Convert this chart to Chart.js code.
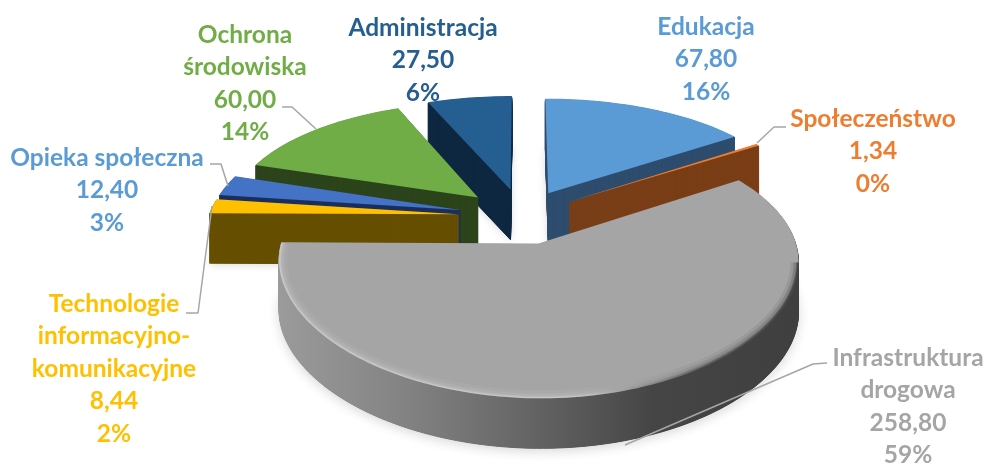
<!DOCTYPE html>
<html lang="pl">
<head>
<meta charset="utf-8">
<title>Wydatki</title>
<script src="https://cdn.jsdelivr.net/npm/chart.js@4"></script>
<style>
  html, body { margin: 0; padding: 0; background: #fff; }
  canvas { display: block; }
</style>
</head>
<body>
<canvas id="pieChart" width="988" height="463"></canvas>
<script>
const categories = ['Edukacja', 'Społeczeństwo', 'Infrastruktura drogowa', 'Technologie informacyjno-komunikacyjne', 'Opieka społeczna', 'Ochrona środowiska', 'Administracja'];
const values = [67.8, 1.34, 258.8, 8.44, 12.4, 60, 27.5];

const topColors = ['#5B9BD5', '#ED7D31', '#A5A5A5', '#FFC000', '#4472C4', '#70AD47', '#255E91'];
const sideColors = ['#2E4D6E', '#7A3E16', null, '#664F00', '#1B2F5E', '#2C441B', '#0E2740'];
const labelColors = ['#5B9BD5', '#ED7D31', '#A5A5A5', '#FFC000', '#5B9BD5', '#70AD47', '#255E91'];
const sliceOffsets = [184, 184, 184, 204, 204, 195, 192];

// wrapped the way the labels sit on the picture
const labelLines = [['Edukacja'], ['Społeczeństwo'], ['Infrastruktura', 'drogowa'], ['Technologie', 'informacyjno-', 'komunikacyjne'], ['Opieka społeczna'], ['Ochrona', 'środowiska'], ['Administracja']];
const labelX = [706, 873, 908, 114, 107, 245, 423];
const labelY = [27, 119, 358, 304, 158, 35, 28];
const leaderLines = [
  null,
  [[786, 127], [774, 127], [757, 143]],
  [[827, 363], [813, 364], [625, 445]],
  [[186, 313], [198, 313], [212, 206]],
  [[210, 164], [221, 164], [228, 186]],
  [[282, 107], [292, 107], [316, 129]],
  null
];

// back to front, grey slice goes over everything
const drawOrder = [6, 0, 5, 4, 3, 1, 2];

const focal = 1.25;       // pie radius -> px on screen
const squash = 0.472;     // tilt of the pie plane
const nearnessX = 0.13;   // perspective strength, across
const nearnessY = 0.17;   // perspective strength, front to back
const depth = 50;
const lineHeight = 32.5;

function project(arc, u, v) {
  const R = arc.outerRadius;
  return [
    arc.x + focal * R * u / (1 - nearnessX * v),
    arc.y + focal * squash * R * v / (1 - nearnessY * v)
  ];
}

function slicePoints(arc) {
  const R = arc.outerRadius;
  const half = (arc.startAngle + arc.endAngle) / 2;
  const e = (arc.options.offset / 4) / R;
  const ou = Math.cos(half) * e;
  const ov = Math.sin(half) * e;
  const rim = [];
  const steps = Math.max(2, Math.ceil((arc.endAngle - arc.startAngle) * 40));
  for (let i = 0; i <= steps; i++) {
    const a = arc.startAngle + (arc.endAngle - arc.startAngle) * i / steps;
    rim.push(project(arc, ou + Math.cos(a), ov + Math.sin(a)));
  }
  return { apex: project(arc, ou, ov), rim };
}

function tracePolygon(ctx, pts, dy) {
  ctx.beginPath();
  pts.forEach((p, i) => (i ? ctx.lineTo(p[0], p[1] + dy) : ctx.moveTo(p[0], p[1] + dy)));
  ctx.closePath();
}

function traceLine(ctx, pts) {
  ctx.beginPath();
  pts.forEach((p, i) => (i ? ctx.lineTo(p[0], p[1]) : ctx.moveTo(p[0], p[1])));
}

function greySide(ctx) {
  const g = ctx.createLinearGradient(278, 0, 800, 0);
  g.addColorStop(0, '#9B9B9B');
  g.addColorStop(0.25, '#828282');
  g.addColorStop(0.5, '#626262');
  g.addColorStop(0.72, '#454545');
  g.addColorStop(1, '#3F3F3F');
  return g;
}

function drawBevel(ctx, rim, outline) {
  ctx.save();
  tracePolygon(ctx, outline, 0);
  ctx.clip();
  const light = ctx.createLinearGradient(278, 0, 800, 0);
  light.addColorStop(0, 'rgba(255,255,255,0.4)');
  light.addColorStop(0.55, 'rgba(255,255,255,0.35)');
  light.addColorStop(0.8, 'rgba(255,255,255,0)');
  const dark = ctx.createLinearGradient(278, 0, 800, 0);
  dark.addColorStop(0.6, 'rgba(0,0,0,0)');
  dark.addColorStop(0.85, 'rgba(0,0,0,0.5)');
  dark.addColorStop(1, 'rgba(0,0,0,0.7)');
  // the far right rim stays flat, shading starts where the edge turns to the viewer
  const maxX = Math.max(...rim.map(p => p[0]));
  const front = rim.slice(rim.findIndex(p => p[0] === maxX));
  ctx.lineJoin = 'round';
  [[16, 0.12], [10, 0.2], [5, 0.35], [2.5, 0.5]].forEach(([w, a]) => {
    ctx.lineWidth = w;
    ctx.globalAlpha = a;
    traceLine(ctx, front);
    ctx.strokeStyle = light;
    ctx.stroke();
    ctx.strokeStyle = dark;
    ctx.stroke();
  });
  ctx.restore();
}

const pie3d = {
  id: 'pie3d',
  beforeDatasetsDraw(chart) {
    const ctx = chart.ctx;
    const arcs = chart.getDatasetMeta(0).data;
    drawOrder.forEach(i => {
      const arc = arcs[i];
      const { apex, rim } = slicePoints(arc);
      const outline = [apex].concat(rim);
      const side = sideColors[i] || greySide(ctx);

      ctx.save();
      ctx.shadowColor = 'rgba(0,0,0,0.16)';
      ctx.shadowBlur = i === 2 ? 12 : 8;
      ctx.shadowOffsetY = i === 2 ? 3 : 1;
      ctx.fillStyle = i === 2 ? '#555' : side;
      tracePolygon(ctx, outline, depth);
      ctx.fill();
      ctx.restore();

      // sweep the top outline down, the stroke keeps thin slivers solid
      ctx.fillStyle = side;
      ctx.strokeStyle = side;
      ctx.lineWidth = 1;
      ctx.lineJoin = 'round';
      for (let d = depth; d > 0; d--) {
        tracePolygon(ctx, outline, d);
        ctx.fill();
        ctx.stroke();
      }
      ctx.fillStyle = arc.options.backgroundColor;
      tracePolygon(ctx, outline, 0);
      ctx.fill();
      if (i === 2) drawBevel(ctx, rim, outline);
    });
    return false;
  },
  afterDraw(chart) {
    const ctx = chart.ctx;
    const total = values.reduce((a, b) => a + b, 0);
    ctx.save();
    ctx.strokeStyle = '#A6A6A6';
    ctx.lineWidth = 1.5;
    leaderLines.forEach(line => {
      if (!line) return;
      traceLine(ctx, line);
      ctx.stroke();
    });
    ctx.font = 'bold 24.5px Lato';
    ctx.textAlign = 'center';
    ctx.textBaseline = 'middle';
    categories.forEach((c, i) => {
      const lines = labelLines[i].concat([
        values[i].toFixed(2).replace('.', ','),
        Math.round(values[i] / total * 100) + '%'
      ]);
      ctx.fillStyle = labelColors[i];
      lines.forEach((t, j) => ctx.fillText(t, labelX[i], labelY[i] + j * lineHeight));
    });
    ctx.restore();
  }
};

new Chart(document.getElementById('pieChart'), {
  type: 'pie',
  data: {
    labels: categories,
    datasets: [{
      data: values,
      backgroundColor: topColors,
      borderWidth: 0,
      offset: sliceOffsets
    }]
  },
  options: {
    responsive: false,
    animation: false,
    radius: 200,
    layout: { padding: { left: 56, bottom: 30 } },
    plugins: {
      legend: { display: false },
      tooltip: { enabled: false }
    }
  },
  plugins: [pie3d]
});
</script>
</body>
</html>
